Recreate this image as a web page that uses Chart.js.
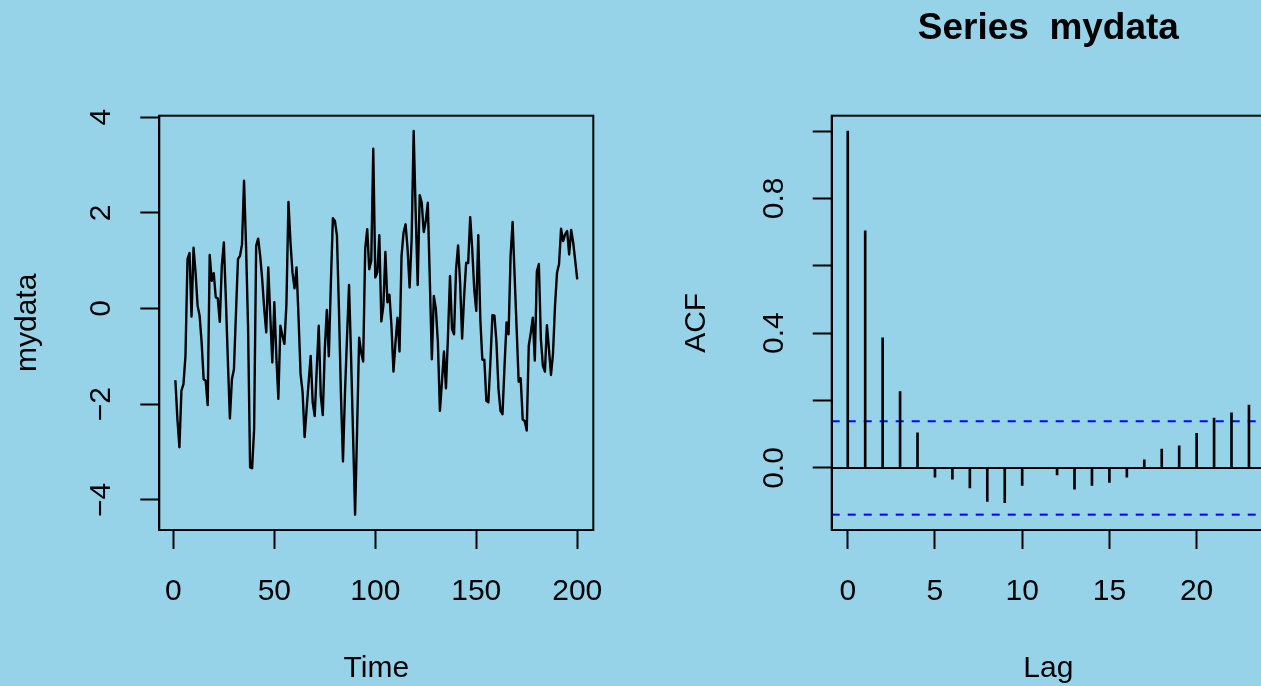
<!DOCTYPE html>
<html>
<head>
<meta charset="utf-8">
<title>mydata</title>
<script src="https://cdn.jsdelivr.net/npm/chart.js@4/dist/chart.umd.min.js"></script>
<style>
    html, body {
        margin: 0;
        padding: 0;
        width: 1261px;
        height: 686px;
        overflow: hidden;
        background: #97d3e8;
    }
    canvas {
        position: absolute;
        top: 0;
    }
    #chartSerie { left: 0; }
    #chartAcf { left: 640px; }
</style>
</head>
<body>
<canvas id="chartSerie" width="630" height="686"></canvas>
<canvas id="chartAcf" width="660" height="686"></canvas>

<script>
// Serie temporal (t = 1..200)
const mydata = [
    -1.50, -2.31, -2.90, -1.72, -1.58, -0.99, 1.03, 1.16, -0.17, 1.27,
    0.75, 0.06, -0.15, -0.71, -1.48, -1.51, -2.02, 1.12, 0.58, 0.74,
    0.23, 0.21, -0.28, 0.89, 1.38, 0.20, -1.10, -2.30, -1.48, -1.27,
    -0.10, 1.03, 1.10, 1.34, 2.67, 1.30, -0.40, -3.32, -3.34, -2.52,
    1.31, 1.46, 1.10, 0.61, -0.01, -0.50, 0.86, -0.15, -1.13, 0.13,
    -1.00, -1.89, -0.36, -0.57, -0.74, 0.10, 2.23, 1.38, 0.75, 0.42,
    0.86, -0.20, -1.37, -1.75, -2.69, -2.10, -1.54, -0.99, -1.96, -2.25,
    -1.27, -0.36, -1.82, -2.23, -0.85, -0.03, -1.00, 0.54, 1.89, 1.83,
    1.53, -0.01, -1.82, -3.20, -1.75, -0.60, 0.49, -1.00, -2.66, -4.31,
    -2.52, -0.61, -0.92, -1.11, 1.24, 1.66, 0.82, 1.00, 3.34, 0.65,
    0.75, 1.53, -0.27, 0.06, 1.18, 0.13, 0.29, -0.36, -1.32, -0.71,
    -0.19, -0.90, 1.10, 1.59, 1.76, 1.24, 0.44, 1.45, 3.71, 2.00,
    0.49, 2.37, 2.21, 1.60, 1.83, 2.21, 0.60, -1.06, 0.26, -0.01,
    -0.71, -2.14, -1.54, -0.90, -1.67, -0.57, 0.68, -0.43, -0.54, 0.82,
    1.32, 0.54, -0.63, 0.26, 0.96, 0.95, 1.91, 1.24, 0.40, -0.05,
    1.53, -0.22, -1.07, -1.07, -1.93, -1.96, -1.13, -0.14, -0.15, -0.71,
    -1.68, -2.14, -2.21, -1.20, -0.29, -0.54, 1.10, 1.81, 0.68, -0.43,
    -1.53, -1.46, -2.32, -2.35, -2.55, -0.78, -0.51, -0.19, -1.09, 0.77,
    0.93, -0.64, -1.20, -1.32, -0.35, -0.85, -1.39, -0.95, 0.06, 0.75,
    0.93, 1.67, 1.41, 1.55, 1.62, 1.13, 1.64, 1.38, 1.00, 0.61,
];

// Autocorrelaciones, lag 0..23
const acfValues = [
    1.000, 0.704, 0.386, 0.227, 0.104, -0.027, -0.033, -0.059, -0.099, -0.103,
    -0.052, 0.002, -0.021, -0.063, -0.052, -0.043, -0.027, 0.024, 0.056, 0.066,
    0.103, 0.148, 0.164, 0.187,
];

// Banda de confianza (+/-)
const acfBound = 0.1386;

// Marcas de los ejes
const serieXTicks = [0, 50, 100, 150, 200];
const serieYTicks = [-4, -2, 0, 2, 4];
const acfXTicks = [0, 5, 10, 15, 20];
const acfYTicks = [0, 0.2, 0.4, 0.6, 0.8, 1.0];
const acfYLabels = [0, 0.4, 0.8];

const FONT = '"Liberation Sans", Arial, Helvetica, sans-serif';
const INK = '#000000';

// Rango con 4% de margen a cada lado
function rangoExtendido(min, max) {
    const d = (max - min) * 0.04;
    return { min: min - d, max: max + d };
}

function menos(v) {
    return v < 0 ? '\u2212' + Math.abs(v) : String(v);
}

// Marco completo alrededor del area de graficos
const marcoPlugin = {
    id: 'marco',
    afterDatasetsDraw(chart) {
        const a = chart.chartArea;
        const ctx = chart.ctx;
        ctx.save();
        ctx.strokeStyle = INK;
        ctx.lineWidth = 2;
        ctx.strokeRect(a.left, a.top, a.right - a.left, a.bottom - a.top);
        ctx.restore();
    },
};

function ejeBase(lim, stepSize, tickPadding, extra) {
    return Object.assign({
        type: 'linear',
        min: lim.min,
        max: lim.max,
        offset: false,
        border: { display: true, color: INK, width: 2 },
        grid: {
            drawOnChartArea: false,
            drawTicks: true,
            tickLength: 19,
            tickWidth: 2,
            color: INK,
            offset: false,
        },
        ticks: {
            stepSize: stepSize,
            includeBounds: false,
            autoSkip: false,
            padding: tickPadding,
            color: INK,
            font: { family: FONT, size: 30 },
        },
    }, extra);
}

// Titulo de eje inferior (Time / Lag)
function tituloInferior(texto) {
    return {
        display: true,
        text: texto,
        color: INK,
        font: { family: FONT, size: 30, lineHeight: 1 },
        padding: { top: 0, bottom: 2 },
    };
}

const opcionesComunes = {
    responsive: false,
    animation: false,
    devicePixelRatio: 1,
    events: [],
};

// ---- Serie temporal ----
const tiempos = mydata.map((v, i) => i + 1);
const limX1 = rangoExtendido(tiempos[0], tiempos[tiempos.length - 1]);
const limY1 = rangoExtendido(Math.min(...mydata), Math.max(...mydata));

const ejeX1 = ejeBase(limX1, 50, 25, {
    title: tituloInferior('Time'),
    afterFit: (s) => { s.height = 156; },
});
ejeX1.ticks.callback = (v) => serieXTicks.includes(v) ? String(v) : '';

const ejeY1 = ejeBase(limY1, 2, 21.2, {
    title: { display: true, text: 'mydata', color: INK, font: { family: FONT, size: 30 }, padding: { top: 9.9, bottom: 0 } },
    afterFit: (s) => { s.width = 159.3; },
});
ejeY1.ticks.minRotation = 90;
ejeY1.ticks.maxRotation = 90;
ejeY1.ticks.crossAlign = 'center';
ejeY1.ticks.callback = (v) => serieYTicks.includes(v) ? menos(v) : '';

new Chart(document.getElementById('chartSerie'), {
    type: 'line',
    data: {
        datasets: [{
            data: mydata.map((v, i) => ({ x: tiempos[i], y: v })),
            borderColor: INK,
            borderWidth: 2.4,
            borderJoinStyle: 'round',
            pointRadius: 0,
            tension: 0,
            fill: false,
        }],
    },
    options: Object.assign({}, opcionesComunes, {
        layout: { padding: { top: 115.7, right: 36.7, bottom: 0, left: 0 } },
        plugins: { legend: { display: false }, tooltip: { enabled: false }, title: { display: false } },
        scales: { x: ejeX1, y: ejeY1 },
    }),
    plugins: [marcoPlugin],
});

// ---- ACF ----
const lags = acfValues.map((v, i) => i);
const limX2 = rangoExtendido(lags[0], lags[lags.length - 1]);
const limY2 = rangoExtendido(Math.min(-acfBound, ...acfValues), Math.max(acfBound, ...acfValues));

const ejeX2 = ejeBase(limX2, 5, 25, {
    title: tituloInferior('Lag'),
    afterFit: (s) => { s.height = 156; },
});
ejeX2.ticks.callback = (v) => acfXTicks.includes(v) ? String(v) : '';

const ejeY2 = ejeBase(limY2, 0.2, 17.15, {
    title: { display: true, text: 'ACF', color: INK, font: { family: FONT, size: 30 }, padding: { top: 38.9, bottom: 0 } },
    afterFit: (s) => { s.width = 191.7; },
});
ejeY2.ticks.minRotation = 90;
ejeY2.ticks.maxRotation = 90;
ejeY2.ticks.crossAlign = 'center';
ejeY2.ticks.callback = (v) => {
    const marcada = acfYTicks.some((t) => Math.abs(t - v) < 1e-9);
    const rotulada = acfYLabels.some((t) => Math.abs(t - v) < 1e-9);
    return marcada && rotulada ? v.toFixed(1) : '';
};

function lineaHorizontal(y, color, dash) {
    return {
        type: 'line',
        data: [{ x: limX2.min, y: y }, { x: limX2.max, y: y }],
        borderColor: color,
        borderWidth: 2,
        borderDash: dash,
        pointRadius: 0,
        fill: false,
    };
}

new Chart(document.getElementById('chartAcf'), {
    type: 'bar',
    data: {
        datasets: [
            {
                type: 'bar',
                data: acfValues.map((v, i) => ({ x: lags[i], y: v })),
                backgroundColor: INK,
                borderWidth: 0,
                barThickness: 2,
            },
            lineaHorizontal(0, INK, []),
            lineaHorizontal(acfBound, '#0000ff', [8, 8]),
            lineaHorizontal(-acfBound, '#0000ff', [8, 8]),
        ],
    },
    options: Object.assign({}, opcionesComunes, {
        layout: { padding: { top: 0, right: 35, bottom: 0, left: 0 } },
        plugins: {
            legend: { display: false },
            tooltip: { enabled: false },
            title: {
                display: true,
                text: 'Series  mydata',
                color: INK,
                fullSize: false,
                font: { family: FONT, size: 37, weight: 'bold' },
                padding: { top: 6.3, bottom: 65 },
            },
        },
        scales: { x: ejeX2, y: ejeY2 },
    }),
    plugins: [marcoPlugin],
});
</script>
</body>
</html>
